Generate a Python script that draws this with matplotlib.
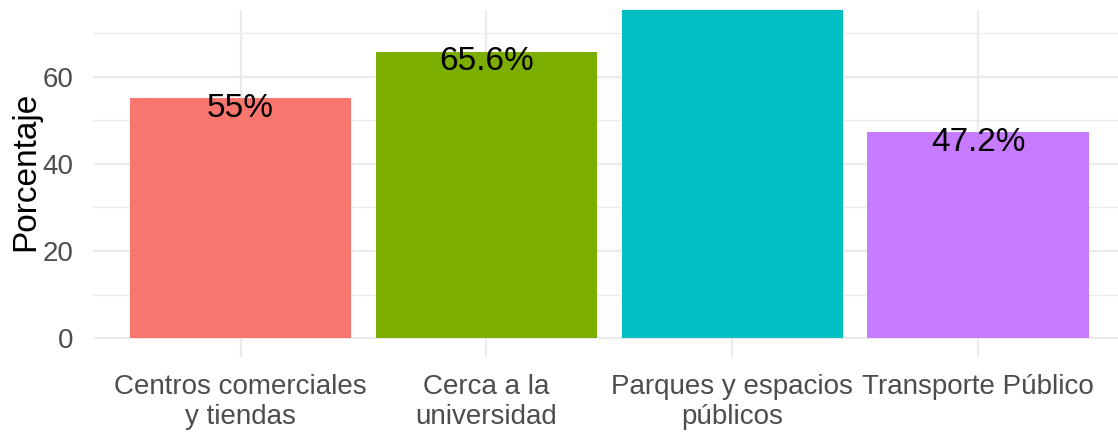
import matplotlib.pyplot as plt
from matplotlib.ticker import MultipleLocator

plt.rcParams['font.family'] = ['Liberation Sans', 'DejaVu Sans']

categorias = ['Centros comerciales\ny tiendas', 'Cerca a la\nuniversidad',
              'Parques y espacios\npúblicos', 'Transporte Público']
porcentajes = [55.0, 65.6, 81.1, 47.2]
etiquetas = ['55%', '65.6%', '81.1%', '47.2%']
colores = ['#F8766D', '#7CAE00', '#00BFC4', '#C77CFF']

W, H = 1118, 432
fig = plt.figure(figsize=(W / 100, H / 100), dpi=100)
# panel: x 93..1125.5 px, y 10..357 px (from top)
ax = fig.add_axes([93 / W, 75 / H, (1125.5 - 93) / W, (357 - 10) / H])

ytop = 75.3
x = list(range(1, len(categorias) + 1))
ax.bar(x, porcentajes, width=0.9, color=colores, zorder=2)
for xi, v, t in zip(x, porcentajes, etiquetas):
    # la etiqueta queda fuera del panel (recortada) si la barra lo supera
    if v < ytop:
        ax.text(xi, v - 2.2, t, ha='center', va='center', fontsize=24,
                color='black', clip_on=True, zorder=3)

ax.set_xlim(0.4, 4.6)
ax.set_ylim(-4.3, ytop)
ax.set_xticks(x)
ax.set_xticklabels(categorias, fontsize=20, color='#4D4D4D', linespacing=1.2)
ax.yaxis.set_major_locator(MultipleLocator(20))
ax.yaxis.set_minor_locator(MultipleLocator(10))
ax.tick_params(axis='y', labelsize=20, labelcolor='#4D4D4D', length=0, pad=14)
ax.tick_params(axis='y', which='minor', length=0)
ax.tick_params(axis='x', length=0, pad=12)
ax.set_ylabel('Porcentaje', fontsize=24, color='black')
ax.yaxis.set_label_coords(-0.05, 0.536)

ax.grid(True, which='major', color='#EBEBEB', linewidth=1.6, zorder=0)
ax.grid(True, which='minor', axis='y', color='#EBEBEB', linewidth=0.9, zorder=0)
ax.set_axisbelow(True)
for s in ax.spines.values():
    s.set_visible(False)

fig.savefig('out.png', dpi=100)
